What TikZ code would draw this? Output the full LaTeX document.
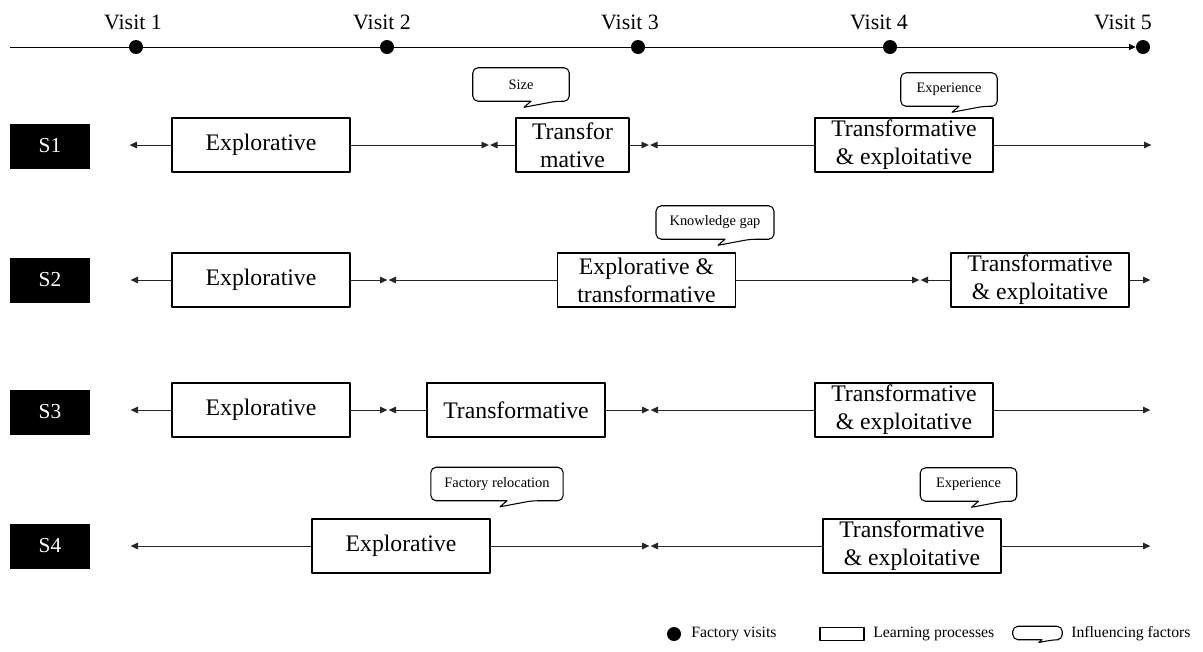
\documentclass[tikz,border=0pt]{standalone}
\usepackage{fontspec}
\setmainfont{Liberation Serif}
\usetikzlibrary{arrows.meta}

% outline of an influencing-factor bubble round node #2 (#1 scales the tail)
\newcommand{\bubble}[2][1]{%
	\draw[bubble line] ([xshift=#1*7.5pt]#2.south) -- (#2.south west) -- (#2.north west)
	-- (#2.north east) -- (#2.south east) -- ([xshift=#1*26.25pt]#2.south)
	[sharp corners] -- ([xshift=#1*2.25pt,yshift=-#1*4.5pt]#2.south) -- cycle;}

\begin{document}
\begin{tikzpicture}[x=0.75pt, y=-0.75pt, line join=round,
	visit/.style={circle, fill=black, inner sep=0pt, minimum size=10.5pt},
	visitlabel/.style={anchor=base, inner sep=0pt, font=\fontsize{16.4pt}{19pt}\selectfont},
	slabel/.style={fill=black, text=white, minimum width=60pt, minimum height=33.75pt,
		inner sep=0pt, font=\fontsize{16pt}{19pt}\selectfont},
	process/.style={draw, line width=1.4pt, minimum width=133.5pt, minimum height=40.5pt,
		inner sep=0pt, align=center, font=\fontsize{17.8pt}{21pt}\selectfont},
	factor/.style={inner xsep=10pt, inner ysep=0pt, minimum width=72pt, minimum height=24.75pt,
		font=\fontsize{10.8pt}{13pt}\selectfont},
	bubble line/.style={rounded corners=4pt, line width=0.8pt},
	phase/.style={-{Triangle[length=5.5pt,width=5pt]}, shorten >=0.5pt,
		line width=0.6pt, black!85},
	legendtext/.style={anchor=west, inner sep=0pt, font=\fontsize{11.8pt}{14pt}\selectfont}]

\useasboundingbox (0,0) rectangle (1203,651);

% ===== Timeline of factory visits =====
\foreach \i/\x/\lx in {1/136/133, 2/387/382, 3/638/630, 4/890/879, 5/1143/1123} {
	\node[visit] (v\i) at (\x,47) {};
	\node[visitlabel] (vl\i) at (\lx,29) {Visit \i};
}
\coordinate (tl) at (10,47);
\draw[line width=0.7pt, -{Triangle[length=5pt,width=4.5pt]}] (tl) -- (v5);

% ===== S1 =====
\node[slabel] (s1) at (50,146) {S1};
\coordinate (s1b0) at (129,145);
\coordinate (s1b1) at (489.5,145);
\coordinate (s1b2) at (649.5,145);
\coordinate (s1b3) at (1152,145);
\node[process] (s1exp) at (261,145) {Explorative};
\node[process, minimum width=84.75pt] (s1tra) at (572.5,145) {Transfor\\mative};
\node[process] (s1te) at (904,145) {Transformative\\\& exploitative};
\draw[phase] (s1exp) -- (s1b0);
\draw[phase] (s1exp) -- (s1b1);
\draw[phase] (s1tra) -- (s1b1);
\draw[phase] (s1tra) -- (s1b2);
\draw[phase] (s1te) -- (s1b2);
\draw[phase] (s1te) -- (s1b3);
\node[factor] (f1) at (521,84.5) {Size};
\bubble{f1}
\node[factor] (f2) at (949,89.5) {Experience};
\bubble{f2}

% ===== S2 =====
\node[slabel] (s2) at (50,280) {S2};
\coordinate (s2b0) at (130,280);
\coordinate (s2b1) at (388,280);
\coordinate (s2b2) at (920,280);
\coordinate (s2b3) at (1151,280);
\node[process] (s2exp) at (261,280) {Explorative};
\node[process] (s2et) at (646.5,280) {Explorative \&\\transformative};
\node[process] (s2te) at (1040,280) {Transformative\\\& exploitative};
\draw[phase] (s2exp) -- (s2b0);
\draw[phase] (s2exp) -- (s2b1);
\draw[phase] (s2et) -- (s2b1);
\draw[phase] (s2et) -- (s2b2);
\draw[phase] (s2te) -- (s2b2);
\draw[phase] (s2te) -- (s2b3);
\node[factor] (f3) at (715,222.5) {Knowledge gap};
\bubble{f3}

% ===== S3 =====
\node[slabel] (s3) at (50,412) {S3};
\coordinate (s3b0) at (130,410);
\coordinate (s3b1) at (388,410);
\coordinate (s3b2) at (650,410);
\coordinate (s3b3) at (1151,410);
\node[process] (s3exp) at (261,410) {Explorative};
\node[process] (s3tra) at (516,410) {Transformative};
\node[process] (s3te) at (904,410) {Transformative\\\& exploitative};
\draw[phase] (s3exp) -- (s3b0);
\draw[phase] (s3exp) -- (s3b1);
\draw[phase] (s3tra) -- (s3b1);
\draw[phase] (s3tra) -- (s3b2);
\draw[phase] (s3te) -- (s3b2);
\draw[phase] (s3te) -- (s3b3);

% ===== S4 =====
\node[slabel] (s4) at (50,546) {S4};
\coordinate (s4b0) at (130,546);
\coordinate (s4b1) at (650,546);
\coordinate (s4b2) at (1151,546);
\node[process] (s4exp) at (401,546) {Explorative};
\node[process] (s4te) at (912,546) {Transformative\\\& exploitative};
\draw[phase] (s4exp) -- (s4b0);
\draw[phase] (s4exp) -- (s4b1);
\draw[phase] (s4te) -- (s4b1);
\draw[phase] (s4te) -- (s4b2);
\node[factor] (f4) at (497,484) {Factory relocation};
\bubble{f4}
\node[factor] (f5) at (968.5,484.5) {Experience};
\bubble{f5}

% ===== Legend =====
\node[visit] (kv) at (674,634) {};
\node[legendtext] (kvt) at (691,634) {Factory visits};
\node[draw, line width=1.4pt, minimum width=33pt, minimum height=9.75pt, inner sep=0pt] (kp) at (842,634) {};
\node[legendtext] (kpt) at (873,634) {Learning processes};
\node[minimum width=36.75pt, minimum height=9.75pt, inner sep=0pt] (kf) at (1037.5,633) {};
\bubble[0.45]{kf}
\node[legendtext] (kft) at (1071,634) {Influencing factors};

\end{tikzpicture}
\end{document}
